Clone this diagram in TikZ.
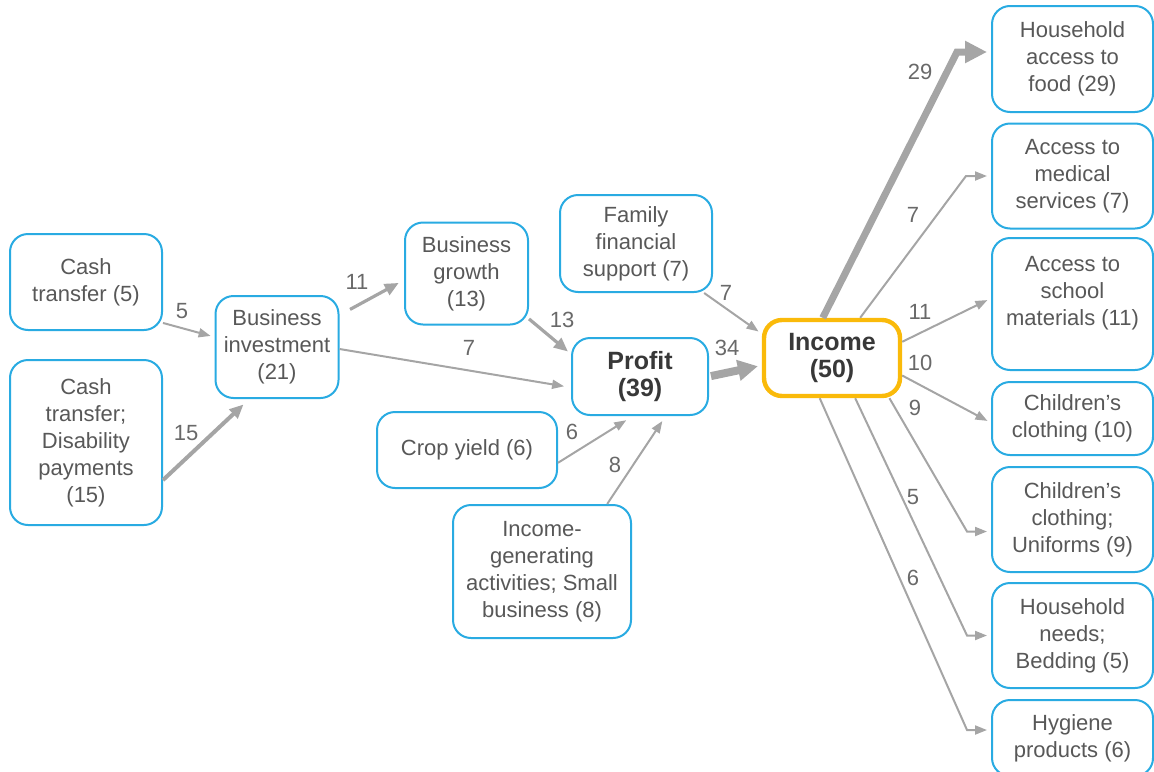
\documentclass[tikz,border=0pt]{standalone}
\usepackage{fontspec}
\setmainfont{Liberation Sans}
\definecolor{boxblue}{RGB}{41, 171, 226}
\definecolor{incorange}{RGB}{250, 186, 10}
\definecolor{flowgray}{RGB}{165, 165, 165}
\definecolor{txtgray}{RGB}{88, 88, 88}
\definecolor{numgray}{RGB}{105, 105, 105}
\usepackage{tikz}
\usetikzlibrary{shapes, arrows.meta, positioning, calc}

\begin{document}
\begin{tikzpicture}[x=0.5pt, y=-0.5pt,
  box/.style={draw=boxblue, line width=1pt, rounded corners=9pt, fill=white, align=center, text=txtgray, inner sep=2pt, font=\fontsize{11}{13.5}\selectfont},
  hub/.style={box, text=black!78, font=\fontsize{12.5}{13.5}\selectfont\bfseries},
  num/.style={text=numgray, font=\fontsize{11}{13.5}\selectfont},
  flow/.style={draw=flowgray, line width=1pt, -{Triangle[length=6pt, width=4.5pt]}, shorten >=2pt},
  midflow/.style={flow, line width=1.6pt, -{Triangle[length=7pt, width=6pt]}},
  bigflow/.style={flow, line width=4pt, -{Triangle[length=10pt, width=10pt]}}]
  \useasboundingbox (0,0) rectangle (1154,771);

  % Sources
  \node[box, minimum width=76pt, minimum height=48pt] (cash) at (86,282) {Cash\\transfer (5)};
  \node[box, minimum width=76pt, minimum height=82.5pt] (cashdis) at (86,442.5) {Cash\\transfer;\\Disability\\payments\\(15)};
  \node[box, minimum width=61.5pt, minimum height=51pt] (binv) at (277,347) {Business\\investment\\(21)};
  \node[box, minimum width=61.5pt, minimum height=51pt] (bgrow) at (466.5,273.5) {Business\\growth\\(13)};
  \node[box, minimum width=76pt, minimum height=48.5pt] (family) at (636,243.5) {Family\\financial\\support (7)};
  \node[box, minimum width=90pt, minimum height=38pt] (crop) at (467,450) {Crop yield (6)};
  \node[box, minimum width=89pt, minimum height=66.5pt] (incgen) at (542,571.5) {Income-\\generating\\activities; Small\\business (8)};

  % Profit and income
  \node[hub, minimum width=68pt, minimum height=38.5pt] (profit) at (640,376.5) {Profit\\(39)};
  \node[hub, draw=incorange, line width=2.2pt, minimum width=68pt, minimum height=38pt] (income) at (832,358) {Income\\(50)};

  % Uses of income
  \node[box, minimum width=80.5pt, minimum height=53pt] (food) at (1072.5,59) {Household\\access to\\food (29)};
  \node[box, minimum width=80.5pt, minimum height=52.5pt] (med) at (1072.5,176) {Access to\\medical\\services (7)};
  \node[box, minimum width=80.5pt, minimum height=66pt] (school) at (1072.5,304) {Access to\\school\\materials (11)\\~};
  \node[box, minimum width=80.5pt, minimum height=36.5pt] (kids) at (1072.5,418.5) {Children’s\\clothing (10)};
  \node[box, minimum width=80.5pt, minimum height=52.5pt] (uniform) at (1072.5,519.5) {Children’s\\clothing;\\Uniforms (9)};
  \node[box, minimum width=80.5pt, minimum height=52.5pt] (bedding) at (1072.5,635.5) {Household\\needs;\\Bedding (5)};
  \node[box, minimum width=80.5pt, minimum height=38pt] (hygiene) at (1072.5,738) {Hygiene\\products (6)};

  % Flows into business and profit
  \draw[flow] (cash.-28) -- ([yshift=5pt]binv.west);
  \draw[midflow, line width=2pt, shorten >=4pt] (cashdis.-26) -- (binv.242);
  \draw[midflow, shorten <=6pt, shorten >=3pt] (binv.27) -- (bgrow.186);
  \draw[flow, shorten >=3.5pt] ([yshift=-1pt]binv.east) -- (profit.189);
  \draw[midflow] (bgrow.-36) -- (profit.162);
  \draw[flow, shorten >=4pt] (crop.-8) -- (profit.260);
  \draw[flow, shorten >=3pt] (incgen.46) -- (profit.-57);

  % Flows into income
  \draw[flow] (family.-36) -- (income.161);
  \draw[bigflow, shorten <=1pt] (profit.east) -- (income.186);

  % Flows out of income
  \draw[bigflow, line width=3.5pt, -{Triangle[length=11pt, width=10.5pt]}] (income.103) -- ([xshift=-17pt, yshift=3.5pt]food.west) -- ([yshift=3.5pt]food.west);
  \draw[flow] (income.55) -- ([xshift=-12.5pt]med.west) -- (med.west);
  \draw[flow] (income.13) -- (school.176);
  \draw[flow] (income.-14) -- (kids.183);
  \draw[flow] (income.-35) -- ([xshift=-12pt, yshift=-6pt]uniform.west) -- ([yshift=-6pt]uniform.west);
  \draw[flow] (income.-60) -- ([xshift=-12pt]bedding.west) -- (bedding.west);
  \draw[flow] (income.-107) -- ([xshift=-12pt, yshift=4pt]hygiene.west) -- ([yshift=4pt]hygiene.west);

  % Flow sizes
  \node[num] (n5) at (182,311) {5};
  \node[num] (n15) at (186,433) {15};
  \node[num] (n11) at (357,282) {11};
  \node[num] (n7a) at (469,348) {7};
  \node[num] (n13) at (562,320) {13};
  \node[num] (n6a) at (572,432) {6};
  \node[num] (n8) at (615,465) {8};
  \node[num] (n7b) at (726,293) {7};
  \node[num] (n34) at (727,348) {34};
  \node[num] (n29) at (920,72) {29};
  \node[num] (n7c) at (913,215) {7};
  \node[num] (n11b) at (920,312) {11};
  \node[num] (n10) at (920,363) {10};
  \node[num] (n9) at (915,408) {9};
  \node[num] (n5b) at (913,497) {5};
  \node[num] (n6b) at (913,578) {6};
\end{tikzpicture}
\end{document}
